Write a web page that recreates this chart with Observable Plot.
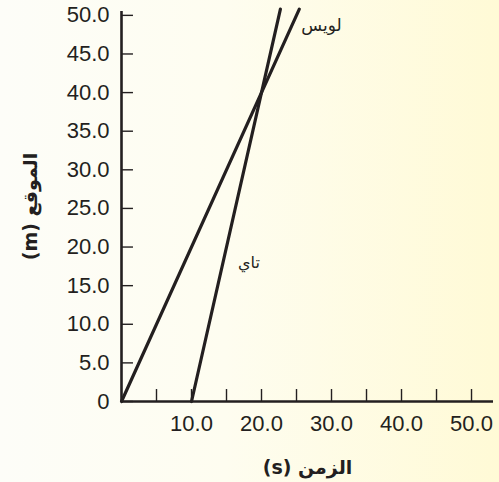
<!DOCTYPE html>
<html>
<head>
<meta charset="utf-8">
<script src="https://cdn.jsdelivr.net/npm/d3@7"></script>
<script src="https://cdn.jsdelivr.net/npm/@observablehq/plot@0.6"></script>
<style>
  html, body { margin: 0; padding: 0; }
  body { width: 499px; height: 482px; overflow: hidden;
    background: linear-gradient(to right, #fdfdf8 0%, #fefdf0 45%, #fffad6 100%); }
  #chart svg { display: block; }
</style>
</head>
<body>
<div id="chart"></div>
<script>
// Data
const lewisTime = [0, 25.4];
const lewisPos = [0, 50.8];
const taiTime = [10, 22.7];
const taiPos = [0, 50.8];
const seriesNames = ["لويس", "تاي"];
const labelTime = [25.4, 14.5];
const labelPos = [50.8, 18];
const yTicks = [0, 5, 10, 15, 20, 25, 30, 35, 40, 45, 50];
const yTickLabels = ["0", "5.0", "10.0", "15.0", "20.0", "25.0", "30.0", "35.0", "40.0", "45.0", "50.0"];
const xTicks = [5, 10, 15, 20, 25, 30, 35, 40, 45, 50];
const xLabelTicks = [10, 20, 30, 40, 50];
const xTickLabels = ["10.0", "20.0", "30.0", "40.0", "50.0"];
const xTitle = "الزمن (s)";
const yTitle = "الموقع (m)";

const lewis = lewisTime.map((t, i) => ({t, p: lewisPos[i]}));
const tai = taiTime.map((t, i) => ({t, p: taiPos[i]}));
const labels = seriesNames.map((name, i) => ({name, t: labelTime[i], p: labelPos[i]}));

const ink = "#231f20";
const fontFamily = "'Liberation Sans', Arial, Helvetica, sans-serif";
const arabicFont = "'DejaVu Sans', sans-serif";

const plot = Plot.plot({
  width: 499,
  height: 482,
  marginLeft: 121,
  marginRight: 6,
  marginTop: 11,
  marginBottom: 81,
  style: {background: "transparent", fontFamily, fontSize: "22px", color: ink},
  x: {domain: [0, 53.14]},
  y: {domain: [0, 50.5]},
  marks: [
    // tick marks (inside)
    Plot.ruleX(xTicks, {x: d => d, y1: 0, y2: 1.55, stroke: ink, strokeWidth: 1.4}),
    Plot.ruleY(yTicks, {y: d => d, x1: 0, x2: 1.71, stroke: ink, strokeWidth: 1.4}),
    // axis lines
    Plot.ruleX([0], {stroke: ink, strokeWidth: 2.6}),
    Plot.ruleY([0], {stroke: ink, strokeWidth: 2.6}),
    // tick labels
    Plot.axisY({ticks: yTicks, tickSize: 0, tickPadding: 12, fontSize: 22,
      tickFormat: d => yTickLabels[yTicks.indexOf(d)], label: null, fill: ink}),
    Plot.axisX({ticks: xLabelTicks, tickSize: 0, tickPadding: 14, fontSize: 22,
      tickFormat: d => xTickLabels[xLabelTicks.indexOf(d)], label: null, fill: ink}),
    // data lines
    Plot.line(lewis, {x: "t", y: "p", stroke: ink, strokeWidth: 3.2, clip: false}),
    Plot.line(tai, {x: "t", y: "p", stroke: ink, strokeWidth: 3.2, clip: false}),
    // series labels
    Plot.text(labels.slice(0, 1), {x: "t", y: "p", text: "name", textAnchor: "start",
      dx: 2, dy: 16, fontSize: 17, fontFamily: arabicFont, fill: ink}),
    Plot.text(labels.slice(1), {x: "t", y: "p", text: "name", textAnchor: "start",
      dx: 15, dy: 0, fontSize: 16, fontFamily: arabicFont, fill: ink}),
    // axis titles
    Plot.text([yTitle], {frameAnchor: "left", dx: -91, rotate: -90, text: d => d,
      textAnchor: "middle", lineAnchor: "middle",
      fontSize: 19, fontWeight: "bold", fontFamily: arabicFont, fill: ink}),
    Plot.text([xTitle], {frameAnchor: "bottom", dy: 66, text: d => d,
      textAnchor: "middle", lineAnchor: "middle",
      fontSize: 19, fontWeight: "bold", fontFamily: arabicFont, fill: ink})
  ]
});
d3.select(plot).selectAll("text")
  .filter(function() { return this.textContent === xTitle || this.textContent === yTitle; })
  .attr("direction", "rtl")
  .style("unicode-bidi", "embed");
document.getElementById("chart").appendChild(plot);
</script>
</body>
</html>
